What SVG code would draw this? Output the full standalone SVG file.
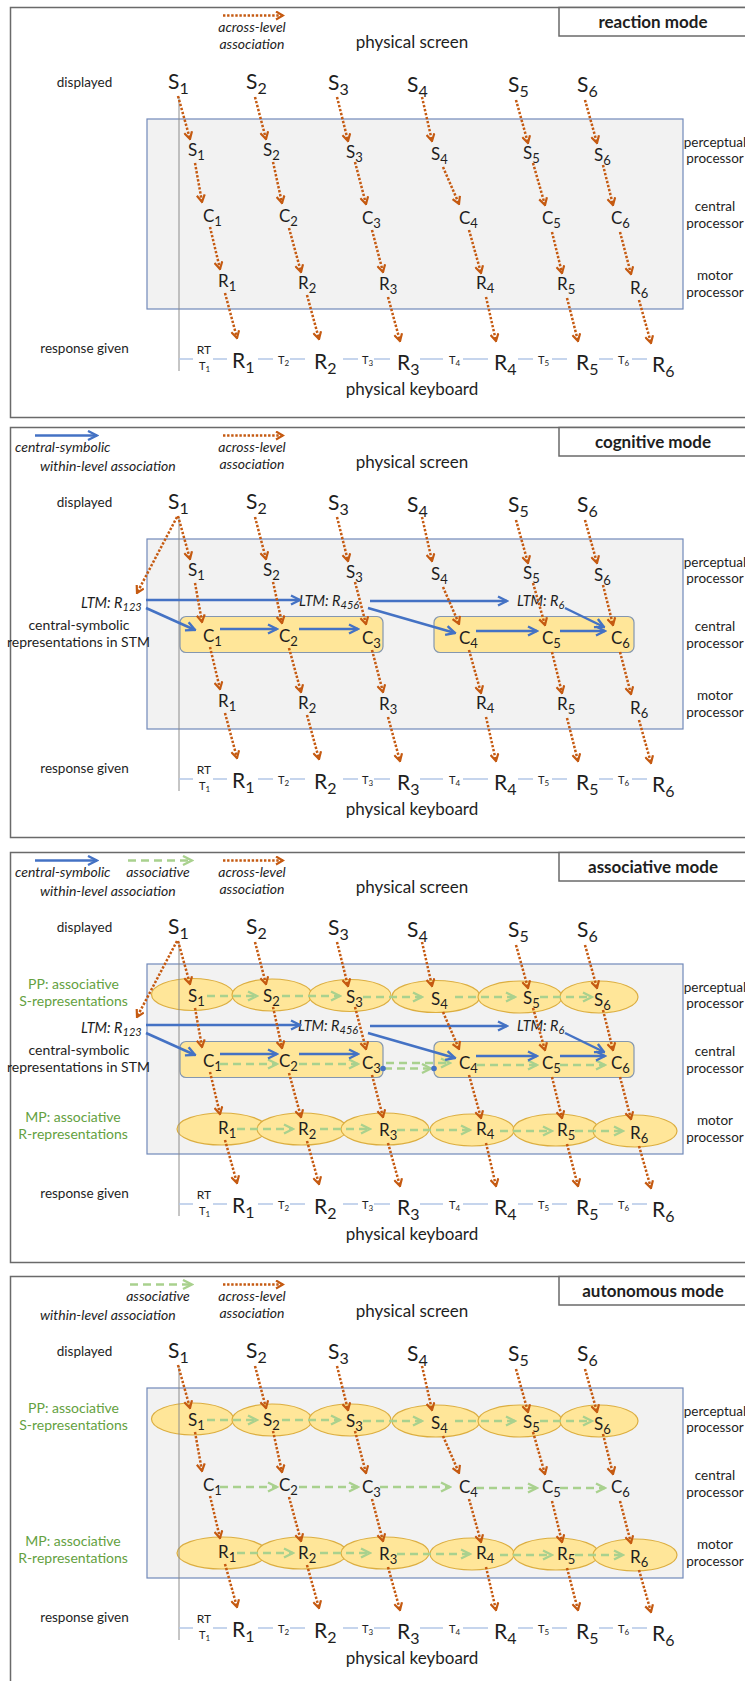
<svg xmlns="http://www.w3.org/2000/svg" width="745" height="1681" viewBox="0 0 745 1681">
<style>
text{font-family:Lato,"Liberation Sans",sans-serif;fill:#1e1e1e}
.frame{fill:none;stroke:#6a6a6a;stroke-width:1.5}
.modebox{fill:#fff;stroke:#6a6a6a;stroke-width:1.5}
.mode{font-size:17px;font-weight:bold;text-anchor:middle}
.hdr{font-size:17px;text-anchor:middle}
.lbl{font-size:13.5px;text-anchor:middle}
.leg{font-size:14px;font-style:italic}
.legc{font-size:14px;font-style:italic;text-anchor:middle}
.ltm{font-size:14.5px;font-style:italic}
.ltms{font-size:11px}
.grn{font-size:14px;fill:#64a13f;text-anchor:middle}
.stml{font-size:14px;text-anchor:middle}
.b{font-size:21px}
.bs{font-size:16px}
.s{font-size:17px}
.ss{font-size:13px}
.rt{font-size:12px;text-anchor:middle}
.t{font-size:11px}
.ts{font-size:8px}
.proc{fill:#f2f2f2;stroke:#7189b9;stroke-width:1.2}
.stm{fill:#ffe699;stroke:#8497b0;stroke-width:1.2}
.er{fill:#ffe699;stroke:#dcae40;stroke-width:1.2}
.vl{stroke:#8c8c8c;stroke-width:1}
.tl{stroke:#b4c7e7;stroke-width:1.3}
.al{fill:none;stroke:#c55a11;stroke-width:2.5;stroke-dasharray:2.4 1.7;marker-end:url(#ao)}
.cs{fill:none;stroke:#4472c4;stroke-width:2.5;marker-end:url(#ab)}
.as{fill:none;stroke:#a9d18e;stroke-width:2.6;stroke-dasharray:8 5;marker-end:url(#ag)}
.dot{fill:#4472c4}
</style>
<defs>
<marker id="ao" viewBox="0 0 10 10" refX="8.5" refY="5" markerWidth="10" markerHeight="10" markerUnits="userSpaceOnUse" orient="auto"><path d="M1.5,1 L8.5,5 L1.5,9" fill="none" stroke="#c55a11" stroke-width="2.2"/></marker>
<marker id="ab" viewBox="0 0 12 12" refX="10.5" refY="6" markerWidth="12" markerHeight="12" markerUnits="userSpaceOnUse" orient="auto"><path d="M1.5,1.5 L10.5,6 L1.5,10.5" fill="none" stroke="#4472c4" stroke-width="2.4"/></marker>
<marker id="ag" viewBox="0 0 12 12" refX="10.5" refY="6" markerWidth="12" markerHeight="12" markerUnits="userSpaceOnUse" orient="auto"><path d="M1.5,1.5 L10.5,6 L1.5,10.5" fill="none" stroke="#a9d18e" stroke-width="2.4"/></marker>
</defs>
<rect width="745" height="1681" fill="#fff"/>

<!-- ================= PANEL 1: reaction mode ================= -->
<g id="panel-reaction">
<rect class="frame" x="10.5" y="7.5" width="740" height="410"/>
<g id="p1-mode"><rect class="modebox" x="559" y="7.5" width="192" height="28.5"/><text class="mode" x="653" y="28">reaction mode</text></g>
<g id="p1-legend"><line class="al" x1="223" y1="15.5" x2="283" y2="15.5"/><text class="legc" x="252" y="32">across-level</text><text class="legc" x="252" y="49">association</text></g>
<g id="p1-screen"><text class="hdr" x="412" y="48">physical screen</text></g>
<g id="p1-displayed"><text class="lbl" x="84.5" y="87">displayed</text></g>
<g id="p1-response"><text class="lbl" x="84.5" y="353">response given</text></g>
<g id="p1-processors"><rect class="proc" x="147" y="119" width="536" height="190"/></g>
<g id="p1-pp-label"><text class="lbl" x="715" y="147">perceptual</text><text class="lbl" x="715" y="163">processor</text></g>
<g id="p1-cp-label"><text class="lbl" x="715" y="211">central</text><text class="lbl" x="715" y="228">processor</text></g>
<g id="p1-mp-label"><text class="lbl" x="715" y="280">motor</text><text class="lbl" x="715" y="297">processor</text></g>
<g id="p1-keyboard"><text class="hdr" x="412" y="395">physical keyboard</text></g>
<g id="p1-Sd1"><text class="b" x="168" y="89">S<tspan class="bs" dy="5">1</tspan></text></g>
<g id="p1-Sd2"><text class="b" x="246" y="89">S<tspan class="bs" dy="5">2</tspan></text></g>
<g id="p1-Sd3"><text class="b" x="328" y="90">S<tspan class="bs" dy="5">3</tspan></text></g>
<g id="p1-Sd4"><text class="b" x="407" y="92">S<tspan class="bs" dy="5">4</tspan></text></g>
<g id="p1-Sd5"><text class="b" x="508" y="92">S<tspan class="bs" dy="5">5</tspan></text></g>
<g id="p1-Sd6"><text class="b" x="577" y="92">S<tspan class="bs" dy="5">6</tspan></text></g>
<g id="p1-S1"><text class="s" x="188" y="156">S<tspan class="ss" dy="4">1</tspan></text></g>
<g id="p1-S2"><text class="s" x="263" y="156">S<tspan class="ss" dy="4">2</tspan></text></g>
<g id="p1-S3"><text class="s" x="346" y="158">S<tspan class="ss" dy="4">3</tspan></text></g>
<g id="p1-S4"><text class="s" x="431" y="160">S<tspan class="ss" dy="4">4</tspan></text></g>
<g id="p1-S5"><text class="s" x="523" y="159">S<tspan class="ss" dy="4">5</tspan></text></g>
<g id="p1-S6"><text class="s" x="594" y="161">S<tspan class="ss" dy="4">6</tspan></text></g>
<g id="p1-C1"><text class="s" x="203" y="222">C<tspan class="ss" dy="4">1</tspan></text></g>
<g id="p1-C2"><text class="s" x="279" y="222">C<tspan class="ss" dy="4">2</tspan></text></g>
<g id="p1-C3"><text class="s" x="362" y="224">C<tspan class="ss" dy="4">3</tspan></text></g>
<g id="p1-C4"><text class="s" x="459" y="224">C<tspan class="ss" dy="4">4</tspan></text></g>
<g id="p1-C5"><text class="s" x="542" y="224">C<tspan class="ss" dy="4">5</tspan></text></g>
<g id="p1-C6"><text class="s" x="611" y="224">C<tspan class="ss" dy="4">6</tspan></text></g>
<g id="p1-R1"><text class="s" x="218" y="287">R<tspan class="ss" dy="4">1</tspan></text></g>
<g id="p1-R2"><text class="s" x="298" y="289">R<tspan class="ss" dy="4">2</tspan></text></g>
<g id="p1-R3"><text class="s" x="379" y="290">R<tspan class="ss" dy="4">3</tspan></text></g>
<g id="p1-R4"><text class="s" x="476" y="289">R<tspan class="ss" dy="4">4</tspan></text></g>
<g id="p1-R5"><text class="s" x="557" y="290">R<tspan class="ss" dy="4">5</tspan></text></g>
<g id="p1-R6"><text class="s" x="630" y="294">R<tspan class="ss" dy="4">6</tspan></text></g>
<g id="p1-Rk1"><text class="b" x="232" y="368">R<tspan class="bs" dy="5">1</tspan></text></g>
<g id="p1-Rk2"><text class="b" x="314" y="369">R<tspan class="bs" dy="5">2</tspan></text></g>
<g id="p1-Rk3"><text class="b" x="397" y="370">R<tspan class="bs" dy="5">3</tspan></text></g>
<g id="p1-Rk4"><text class="b" x="494" y="370">R<tspan class="bs" dy="5">4</tspan></text></g>
<g id="p1-Rk5"><text class="b" x="576" y="370">R<tspan class="bs" dy="5">5</tspan></text></g>
<g id="p1-Rk6"><text class="b" x="652" y="372">R<tspan class="bs" dy="5">6</tspan></text></g>
<g id="p1-timeline">
<line class="vl" x1="179" y1="97" x2="179" y2="371"/>
<path class="tl" d="M179,359H193M213,359H227M258,359H273M290,359H305M343,359H358M374,359H390M420,359H443M463,359H488M518,359H533M552,359H567M599,359H613M632,359H647"/>
<text class="rt" x="204" y="354">RT</text>
<text class="t" x="199" y="370">T<tspan class="ts" dy="2">1</tspan></text>
<text class="t" x="278" y="364">T<tspan class="ts" dy="2">2</tspan></text>
<text class="t" x="362" y="364">T<tspan class="ts" dy="2">3</tspan></text>
<text class="t" x="449" y="364">T<tspan class="ts" dy="2">4</tspan></text>
<text class="t" x="538" y="364">T<tspan class="ts" dy="2">5</tspan></text>
<text class="t" x="618" y="364">T<tspan class="ts" dy="2">6</tspan></text>
</g>
<g id="p1-connectors">
<line class="al" x1="178" y1="96" x2="190" y2="139"/>
<line class="al" x1="255" y1="97" x2="266" y2="139"/>
<line class="al" x1="337" y1="97" x2="348" y2="141"/>
<line class="al" x1="422" y1="97" x2="432" y2="141"/>
<line class="al" x1="516" y1="100" x2="528" y2="143"/>
<line class="al" x1="585" y1="100" x2="597" y2="143"/>
<line class="al" x1="195" y1="163" x2="202" y2="202"/>
<line class="al" x1="273" y1="162" x2="282" y2="203"/>
<line class="al" x1="355" y1="162" x2="366" y2="204"/>
<line class="al" x1="443" y1="167" x2="459" y2="204"/>
<line class="al" x1="533" y1="163" x2="545" y2="205"/>
<line class="al" x1="603" y1="165" x2="613" y2="205"/>
<line class="al" x1="210" y1="227" x2="220" y2="269"/>
<line class="al" x1="289" y1="228" x2="301" y2="272"/>
<line class="al" x1="372" y1="230" x2="383" y2="272"/>
<line class="al" x1="469" y1="230" x2="481" y2="273"/>
<line class="al" x1="552" y1="232" x2="562" y2="273"/>
<line class="al" x1="620" y1="232" x2="631" y2="274"/>
<line class="al" x1="225" y1="293" x2="237" y2="338"/>
<line class="al" x1="307" y1="295" x2="319" y2="339"/>
<line class="al" x1="388" y1="297" x2="400" y2="341"/>
<line class="al" x1="486" y1="297" x2="496" y2="341"/>
<line class="al" x1="567" y1="298" x2="578" y2="341"/>
<line class="al" x1="639" y1="300" x2="651" y2="343"/>
</g>
</g>

<!-- ================= PANEL 2: cognitive mode ================= -->
<g id="panel-cognitive" transform="translate(0,420)">
<rect class="frame" x="10.5" y="7.5" width="740" height="410"/>
<g id="p2-mode"><rect class="modebox" x="559" y="7.5" width="192" height="28.5"/><text class="mode" x="653" y="28">cognitive mode</text></g>
<g id="p2-legend">
<line class="cs" x1="35" y1="15.5" x2="97" y2="15.5"/>
<text class="leg" x="15" y="32">central-symbolic</text>
<text class="leg" x="40" y="51">within-level association</text>
<line class="al" x1="223" y1="15.5" x2="283" y2="15.5"/><text class="legc" x="252" y="32">across-level</text><text class="legc" x="252" y="49">association</text></g>
<g id="p2-screen"><text class="hdr" x="412" y="48">physical screen</text></g>
<g id="p2-displayed"><text class="lbl" x="84.5" y="87">displayed</text></g>
<g id="p2-response"><text class="lbl" x="84.5" y="353">response given</text></g>
<g id="p2-processors"><rect class="proc" x="147" y="119" width="536" height="190"/></g>
<g id="p2-pp-label"><text class="lbl" x="715" y="147">perceptual</text><text class="lbl" x="715" y="163">processor</text></g>
<g id="p2-cp-label"><text class="lbl" x="715" y="211">central</text><text class="lbl" x="715" y="228">processor</text></g>
<g id="p2-mp-label"><text class="lbl" x="715" y="280">motor</text><text class="lbl" x="715" y="297">processor</text></g>
<g id="p2-keyboard"><text class="hdr" x="412" y="395">physical keyboard</text></g>
<g id="p2-stm-label"><text class="stml" x="79" y="210">central-symbolic</text><text class="stml" x="78.5" y="227">representations in STM</text></g>
<g id="p2-stm1"><rect class="stm" x="180" y="196.5" width="203" height="36" rx="6"/></g>
<g id="p2-stm2"><rect class="stm" x="434" y="196.5" width="200" height="36" rx="6"/></g>
<g id="p2-ltm123"><text class="ltm" x="81" y="188">LTM: R<tspan class="ltms" dy="3">123</tspan></text></g>
<g id="p2-ltm456"><text class="ltm" x="299" y="186">LTM: R<tspan class="ltms" dy="3">456</tspan></text></g>
<g id="p2-ltm6"><text class="ltm" x="517" y="186">LTM: R<tspan class="ltms" dy="3">6</tspan></text></g>
<g id="p2-Sd1"><text class="b" x="168" y="89">S<tspan class="bs" dy="5">1</tspan></text></g>
<g id="p2-Sd2"><text class="b" x="246" y="89">S<tspan class="bs" dy="5">2</tspan></text></g>
<g id="p2-Sd3"><text class="b" x="328" y="90">S<tspan class="bs" dy="5">3</tspan></text></g>
<g id="p2-Sd4"><text class="b" x="407" y="92">S<tspan class="bs" dy="5">4</tspan></text></g>
<g id="p2-Sd5"><text class="b" x="508" y="92">S<tspan class="bs" dy="5">5</tspan></text></g>
<g id="p2-Sd6"><text class="b" x="577" y="92">S<tspan class="bs" dy="5">6</tspan></text></g>
<g id="p2-S1"><text class="s" x="188" y="156">S<tspan class="ss" dy="4">1</tspan></text></g>
<g id="p2-S2"><text class="s" x="263" y="156">S<tspan class="ss" dy="4">2</tspan></text></g>
<g id="p2-S3"><text class="s" x="346" y="158">S<tspan class="ss" dy="4">3</tspan></text></g>
<g id="p2-S4"><text class="s" x="431" y="160">S<tspan class="ss" dy="4">4</tspan></text></g>
<g id="p2-S5"><text class="s" x="523" y="159">S<tspan class="ss" dy="4">5</tspan></text></g>
<g id="p2-S6"><text class="s" x="594" y="161">S<tspan class="ss" dy="4">6</tspan></text></g>
<g id="p2-C1"><text class="s" x="203" y="222">C<tspan class="ss" dy="4">1</tspan></text></g>
<g id="p2-C2"><text class="s" x="279" y="222">C<tspan class="ss" dy="4">2</tspan></text></g>
<g id="p2-C3"><text class="s" x="362" y="224">C<tspan class="ss" dy="4">3</tspan></text></g>
<g id="p2-C4"><text class="s" x="459" y="224">C<tspan class="ss" dy="4">4</tspan></text></g>
<g id="p2-C5"><text class="s" x="542" y="224">C<tspan class="ss" dy="4">5</tspan></text></g>
<g id="p2-C6"><text class="s" x="611" y="224">C<tspan class="ss" dy="4">6</tspan></text></g>
<g id="p2-R1"><text class="s" x="218" y="287">R<tspan class="ss" dy="4">1</tspan></text></g>
<g id="p2-R2"><text class="s" x="298" y="289">R<tspan class="ss" dy="4">2</tspan></text></g>
<g id="p2-R3"><text class="s" x="379" y="290">R<tspan class="ss" dy="4">3</tspan></text></g>
<g id="p2-R4"><text class="s" x="476" y="289">R<tspan class="ss" dy="4">4</tspan></text></g>
<g id="p2-R5"><text class="s" x="557" y="290">R<tspan class="ss" dy="4">5</tspan></text></g>
<g id="p2-R6"><text class="s" x="630" y="294">R<tspan class="ss" dy="4">6</tspan></text></g>
<g id="p2-Rk1"><text class="b" x="232" y="368">R<tspan class="bs" dy="5">1</tspan></text></g>
<g id="p2-Rk2"><text class="b" x="314" y="369">R<tspan class="bs" dy="5">2</tspan></text></g>
<g id="p2-Rk3"><text class="b" x="397" y="370">R<tspan class="bs" dy="5">3</tspan></text></g>
<g id="p2-Rk4"><text class="b" x="494" y="370">R<tspan class="bs" dy="5">4</tspan></text></g>
<g id="p2-Rk5"><text class="b" x="576" y="370">R<tspan class="bs" dy="5">5</tspan></text></g>
<g id="p2-Rk6"><text class="b" x="652" y="372">R<tspan class="bs" dy="5">6</tspan></text></g>
<g id="p2-timeline">
<line class="vl" x1="179" y1="97" x2="179" y2="371"/>
<path class="tl" d="M179,359H193M213,359H227M258,359H273M290,359H305M343,359H358M374,359H390M420,359H443M463,359H488M518,359H533M552,359H567M599,359H613M632,359H647"/>
<text class="rt" x="204" y="354">RT</text>
<text class="t" x="199" y="370">T<tspan class="ts" dy="2">1</tspan></text>
<text class="t" x="278" y="364">T<tspan class="ts" dy="2">2</tspan></text>
<text class="t" x="362" y="364">T<tspan class="ts" dy="2">3</tspan></text>
<text class="t" x="449" y="364">T<tspan class="ts" dy="2">4</tspan></text>
<text class="t" x="538" y="364">T<tspan class="ts" dy="2">5</tspan></text>
<text class="t" x="618" y="364">T<tspan class="ts" dy="2">6</tspan></text>
</g>
<g id="p2-connectors">
<line class="cs" x1="146" y1="180" x2="300" y2="180"/>
<line class="cs" x1="146" y1="188" x2="195" y2="210"/>
<line class="cs" x1="370" y1="181" x2="507" y2="181"/>
<line class="cs" x1="368" y1="188" x2="455" y2="213"/>
<line class="cs" x1="565" y1="188" x2="604" y2="207"/>
<line class="cs" x1="220" y1="209" x2="277" y2="209"/>
<line class="cs" x1="299" y1="209" x2="358" y2="209"/>
<line class="cs" x1="476" y1="211" x2="537" y2="211"/>
<line class="cs" x1="560" y1="211" x2="605" y2="211"/>
<line class="al" x1="177" y1="97" x2="137" y2="173"/>
<line class="al" x1="178" y1="96" x2="190" y2="139"/>
<line class="al" x1="255" y1="97" x2="266" y2="139"/>
<line class="al" x1="337" y1="97" x2="348" y2="141"/>
<line class="al" x1="422" y1="97" x2="432" y2="141"/>
<line class="al" x1="516" y1="100" x2="528" y2="143"/>
<line class="al" x1="585" y1="100" x2="597" y2="143"/>
<line class="al" x1="195" y1="163" x2="202" y2="202"/>
<line class="al" x1="273" y1="162" x2="282" y2="203"/>
<line class="al" x1="355" y1="162" x2="366" y2="204"/>
<line class="al" x1="443" y1="167" x2="459" y2="204"/>
<line class="al" x1="533" y1="163" x2="545" y2="205"/>
<line class="al" x1="603" y1="165" x2="613" y2="205"/>
<line class="al" x1="210" y1="227" x2="220" y2="269"/>
<line class="al" x1="289" y1="228" x2="301" y2="272"/>
<line class="al" x1="372" y1="230" x2="383" y2="272"/>
<line class="al" x1="469" y1="230" x2="481" y2="273"/>
<line class="al" x1="552" y1="232" x2="562" y2="273"/>
<line class="al" x1="620" y1="232" x2="631" y2="274"/>
<line class="al" x1="225" y1="293" x2="237" y2="338"/>
<line class="al" x1="307" y1="295" x2="319" y2="339"/>
<line class="al" x1="388" y1="297" x2="400" y2="341"/>
<line class="al" x1="486" y1="297" x2="496" y2="341"/>
<line class="al" x1="567" y1="298" x2="578" y2="341"/>
<line class="al" x1="639" y1="300" x2="651" y2="343"/>
</g>
</g>

<!-- ================= PANEL 3: associative mode ================= -->
<g id="panel-associative" transform="translate(0,845)">
<rect class="frame" x="10.5" y="7.5" width="740" height="410"/>
<g id="p3-mode"><rect class="modebox" x="559" y="7.5" width="192" height="28.5"/><text class="mode" x="653" y="28">associative mode</text></g>
<g id="p3-legend">
<line class="cs" x1="35" y1="15.5" x2="97" y2="15.5"/>
<line class="as" x1="128" y1="15.5" x2="192" y2="15.5"/>
<text class="leg" x="15" y="32">central-symbolic</text>
<text class="legc" x="158" y="32">associative</text>
<text class="leg" x="40" y="51">within-level association</text>
<line class="al" x1="223" y1="15.5" x2="283" y2="15.5"/><text class="legc" x="252" y="32">across-level</text><text class="legc" x="252" y="49">association</text></g>
<g id="p3-screen"><text class="hdr" x="412" y="48">physical screen</text></g>
<g id="p3-displayed"><text class="lbl" x="84.5" y="87">displayed</text></g>
<g id="p3-response"><text class="lbl" x="84.5" y="353">response given</text></g>
<g id="p3-processors"><rect class="proc" x="147" y="119" width="536" height="190"/></g>
<g id="p3-pp-label"><text class="lbl" x="715" y="147">perceptual</text><text class="lbl" x="715" y="163">processor</text></g>
<g id="p3-cp-label"><text class="lbl" x="715" y="211">central</text><text class="lbl" x="715" y="228">processor</text></g>
<g id="p3-mp-label"><text class="lbl" x="715" y="280">motor</text><text class="lbl" x="715" y="297">processor</text></g>
<g id="p3-keyboard"><text class="hdr" x="412" y="395">physical keyboard</text></g>
<g id="p3-pp-assoc"><text class="grn" x="73.5" y="144">PP: associative</text><text class="grn" x="73.5" y="161">S-representations</text></g>
<g id="p3-mp-assoc"><text class="grn" x="73" y="277">MP: associative</text><text class="grn" x="73" y="294">R-representations</text></g>
<g id="p3-stm-label"><text class="stml" x="79" y="210">central-symbolic</text><text class="stml" x="78.5" y="227">representations in STM</text></g>
<g id="p3-stm1"><rect class="stm" x="180" y="196.5" width="203" height="36" rx="6"/></g>
<g id="p3-stm2"><rect class="stm" x="434" y="196.5" width="200" height="36" rx="6"/></g>
<g id="p3-ltm123"><text class="ltm" x="81" y="188">LTM: R<tspan class="ltms" dy="3">123</tspan></text></g>
<g id="p3-ltm456"><text class="ltm" x="298" y="186">LTM: R<tspan class="ltms" dy="3">456</tspan></text></g>
<g id="p3-ltm6"><text class="ltm" x="517" y="186">LTM: R<tspan class="ltms" dy="3">6</tspan></text></g>
<g id="p3-Sd1"><text class="b" x="168" y="89">S<tspan class="bs" dy="5">1</tspan></text></g>
<g id="p3-Sd2"><text class="b" x="246" y="89">S<tspan class="bs" dy="5">2</tspan></text></g>
<g id="p3-Sd3"><text class="b" x="328" y="90">S<tspan class="bs" dy="5">3</tspan></text></g>
<g id="p3-Sd4"><text class="b" x="407" y="92">S<tspan class="bs" dy="5">4</tspan></text></g>
<g id="p3-Sd5"><text class="b" x="508" y="92">S<tspan class="bs" dy="5">5</tspan></text></g>
<g id="p3-Sd6"><text class="b" x="577" y="92">S<tspan class="bs" dy="5">6</tspan></text></g>
<g id="p3-S1"><ellipse class="er" cx="192.5" cy="149.5" rx="41" ry="16"/><text class="s" x="188" y="157">S<tspan class="ss" dy="4">1</tspan></text></g>
<g id="p3-S2"><ellipse class="er" cx="272" cy="150" rx="40" ry="16"/><text class="s" x="263" y="157">S<tspan class="ss" dy="4">2</tspan></text></g>
<g id="p3-S3"><ellipse class="er" cx="350" cy="150.5" rx="41" ry="16"/><text class="s" x="346" y="158">S<tspan class="ss" dy="4">3</tspan></text></g>
<g id="p3-S4"><ellipse class="er" cx="436" cy="151.5" rx="44" ry="16"/><text class="s" x="431" y="160">S<tspan class="ss" dy="4">4</tspan></text></g>
<g id="p3-S5"><ellipse class="er" cx="520" cy="152" rx="42" ry="16"/><text class="s" x="523" y="159">S<tspan class="ss" dy="4">5</tspan></text></g>
<g id="p3-S6"><ellipse class="er" cx="599" cy="152" rx="39" ry="16"/><text class="s" x="594" y="161">S<tspan class="ss" dy="4">6</tspan></text></g>
<g id="p3-C1"><text class="s" x="203" y="222">C<tspan class="ss" dy="4">1</tspan></text></g>
<g id="p3-C2"><text class="s" x="279" y="222">C<tspan class="ss" dy="4">2</tspan></text></g>
<g id="p3-C3"><text class="s" x="362" y="224">C<tspan class="ss" dy="4">3</tspan></text></g>
<g id="p3-C4"><text class="s" x="459" y="224">C<tspan class="ss" dy="4">4</tspan></text></g>
<g id="p3-C5"><text class="s" x="542" y="224">C<tspan class="ss" dy="4">5</tspan></text></g>
<g id="p3-C6"><text class="s" x="611" y="224">C<tspan class="ss" dy="4">6</tspan></text></g>
<g id="p3-R1"><ellipse class="er" cx="222" cy="284" rx="45" ry="16"/><text class="s" x="218" y="289">R<tspan class="ss" dy="4">1</tspan></text></g>
<g id="p3-R2"><ellipse class="er" cx="302" cy="284" rx="45" ry="16"/><text class="s" x="298" y="290">R<tspan class="ss" dy="4">2</tspan></text></g>
<g id="p3-R3"><ellipse class="er" cx="385" cy="284" rx="44" ry="16"/><text class="s" x="379" y="291">R<tspan class="ss" dy="4">3</tspan></text></g>
<g id="p3-R4"><ellipse class="er" cx="472" cy="285" rx="42" ry="16"/><text class="s" x="476" y="290">R<tspan class="ss" dy="4">4</tspan></text></g>
<g id="p3-R5"><ellipse class="er" cx="556" cy="285" rx="43" ry="16"/><text class="s" x="557" y="291">R<tspan class="ss" dy="4">5</tspan></text></g>
<g id="p3-R6"><ellipse class="er" cx="635" cy="286" rx="42" ry="16"/><text class="s" x="630" y="294">R<tspan class="ss" dy="4">6</tspan></text></g>
<g id="p3-Rk1"><text class="b" x="232" y="368">R<tspan class="bs" dy="5">1</tspan></text></g>
<g id="p3-Rk2"><text class="b" x="314" y="369">R<tspan class="bs" dy="5">2</tspan></text></g>
<g id="p3-Rk3"><text class="b" x="397" y="370">R<tspan class="bs" dy="5">3</tspan></text></g>
<g id="p3-Rk4"><text class="b" x="494" y="370">R<tspan class="bs" dy="5">4</tspan></text></g>
<g id="p3-Rk5"><text class="b" x="576" y="370">R<tspan class="bs" dy="5">5</tspan></text></g>
<g id="p3-Rk6"><text class="b" x="652" y="372">R<tspan class="bs" dy="5">6</tspan></text></g>
<g id="p3-timeline">
<line class="vl" x1="179" y1="97" x2="179" y2="371"/>
<path class="tl" d="M179,359H193M213,359H227M258,359H273M290,359H305M343,359H358M374,359H390M420,359H443M463,359H488M518,359H533M552,359H567M599,359H613M632,359H647"/>
<text class="rt" x="204" y="354">RT</text>
<text class="t" x="199" y="370">T<tspan class="ts" dy="2">1</tspan></text>
<text class="t" x="278" y="364">T<tspan class="ts" dy="2">2</tspan></text>
<text class="t" x="362" y="364">T<tspan class="ts" dy="2">3</tspan></text>
<text class="t" x="449" y="364">T<tspan class="ts" dy="2">4</tspan></text>
<text class="t" x="538" y="364">T<tspan class="ts" dy="2">5</tspan></text>
<text class="t" x="618" y="364">T<tspan class="ts" dy="2">6</tspan></text>
</g>
<g id="p3-connectors">
<line class="as" x1="207" y1="151" x2="257" y2="151"/>
<line class="as" x1="282" y1="151" x2="340" y2="151"/>
<line class="as" x1="363" y1="152" x2="422" y2="152"/>
<line class="as" x1="455" y1="152" x2="515" y2="152"/>
<line class="as" x1="540" y1="152" x2="592" y2="152"/>
<line class="as" x1="220" y1="219" x2="277" y2="219"/>
<line class="as" x1="299" y1="219" x2="358" y2="219"/>
<line class="as" x1="386" y1="218" x2="450" y2="218"/>
<line class="as" x1="384" y1="223.5" x2="431" y2="223.5"/>
<circle class="dot" cx="383" cy="223.5" r="2.8"/>
<circle class="dot" cx="434" cy="223.5" r="2.8"/>
<line class="as" x1="477" y1="220" x2="537" y2="220"/>
<line class="as" x1="560" y1="220" x2="605" y2="220"/>
<line class="as" x1="237" y1="284" x2="293" y2="284"/>
<line class="as" x1="320" y1="284" x2="370" y2="284"/>
<line class="as" x1="397" y1="285" x2="470" y2="285"/>
<line class="as" x1="500" y1="286" x2="552" y2="286"/>
<line class="as" x1="575" y1="286" x2="623" y2="286"/>
<line class="cs" x1="146" y1="180" x2="300" y2="180"/>
<line class="cs" x1="146" y1="188" x2="195" y2="210"/>
<line class="cs" x1="370" y1="181" x2="507" y2="181"/>
<line class="cs" x1="368" y1="188" x2="455" y2="213"/>
<line class="cs" x1="565" y1="188" x2="604" y2="207"/>
<line class="cs" x1="220" y1="209" x2="277" y2="209"/>
<line class="cs" x1="299" y1="209" x2="358" y2="209"/>
<line class="cs" x1="476" y1="211" x2="537" y2="211"/>
<line class="cs" x1="560" y1="211" x2="605" y2="211"/>
<line class="al" x1="177" y1="96" x2="137" y2="172"/>
<line class="al" x1="178" y1="96" x2="190" y2="139"/>
<line class="al" x1="255" y1="97" x2="266" y2="139"/>
<line class="al" x1="337" y1="97" x2="348" y2="141"/>
<line class="al" x1="422" y1="97" x2="432" y2="141"/>
<line class="al" x1="516" y1="100" x2="528" y2="143"/>
<line class="al" x1="585" y1="100" x2="597" y2="143"/>
<line class="al" x1="195" y1="163" x2="202" y2="202"/>
<line class="al" x1="273" y1="162" x2="282" y2="203"/>
<line class="al" x1="355" y1="162" x2="366" y2="204"/>
<line class="al" x1="443" y1="167" x2="459" y2="204"/>
<line class="al" x1="533" y1="163" x2="545" y2="205"/>
<line class="al" x1="603" y1="165" x2="613" y2="205"/>
<line class="al" x1="210" y1="227" x2="220" y2="269"/>
<line class="al" x1="289" y1="228" x2="301" y2="272"/>
<line class="al" x1="372" y1="230" x2="383" y2="272"/>
<line class="al" x1="469" y1="230" x2="481" y2="273"/>
<line class="al" x1="552" y1="232" x2="562" y2="273"/>
<line class="al" x1="620" y1="232" x2="631" y2="274"/>
<line class="al" x1="225" y1="295" x2="237" y2="338"/>
<line class="al" x1="307" y1="296" x2="319" y2="339"/>
<line class="al" x1="388" y1="298" x2="400" y2="341"/>
<line class="al" x1="486" y1="298" x2="496" y2="341"/>
<line class="al" x1="567" y1="299" x2="578" y2="341"/>
<line class="al" x1="639" y1="301" x2="651" y2="343"/>
</g>
</g>

<!-- ================= PANEL 4: autonomous mode ================= -->
<g id="panel-autonomous" transform="translate(0,1269)">
<rect class="frame" x="10.5" y="7.5" width="740" height="410"/>
<g id="p4-mode"><rect class="modebox" x="559" y="7.5" width="192" height="28.5"/><text class="mode" x="653" y="28">autonomous mode</text></g>
<g id="p4-legend">
<line class="as" x1="130" y1="15.5" x2="192" y2="15.5"/>
<text class="legc" x="158" y="32">associative</text>
<text class="leg" x="40" y="51">within-level association</text>
<line class="al" x1="223" y1="15.5" x2="283" y2="15.5"/><text class="legc" x="252" y="32">across-level</text><text class="legc" x="252" y="49">association</text></g>
<g id="p4-screen"><text class="hdr" x="412" y="48">physical screen</text></g>
<g id="p4-displayed"><text class="lbl" x="84.5" y="87">displayed</text></g>
<g id="p4-response"><text class="lbl" x="84.5" y="353">response given</text></g>
<g id="p4-processors"><rect class="proc" x="147" y="119" width="536" height="190"/></g>
<g id="p4-pp-label"><text class="lbl" x="715" y="147">perceptual</text><text class="lbl" x="715" y="163">processor</text></g>
<g id="p4-cp-label"><text class="lbl" x="715" y="211">central</text><text class="lbl" x="715" y="228">processor</text></g>
<g id="p4-mp-label"><text class="lbl" x="715" y="280">motor</text><text class="lbl" x="715" y="297">processor</text></g>
<g id="p4-keyboard"><text class="hdr" x="412" y="395">physical keyboard</text></g>
<g id="p4-pp-assoc"><text class="grn" x="73.5" y="144">PP: associative</text><text class="grn" x="73.5" y="161">S-representations</text></g>
<g id="p4-mp-assoc"><text class="grn" x="73" y="277">MP: associative</text><text class="grn" x="73" y="294">R-representations</text></g>
<g id="p4-Sd1"><text class="b" x="168" y="89">S<tspan class="bs" dy="5">1</tspan></text></g>
<g id="p4-Sd2"><text class="b" x="246" y="89">S<tspan class="bs" dy="5">2</tspan></text></g>
<g id="p4-Sd3"><text class="b" x="328" y="90">S<tspan class="bs" dy="5">3</tspan></text></g>
<g id="p4-Sd4"><text class="b" x="407" y="92">S<tspan class="bs" dy="5">4</tspan></text></g>
<g id="p4-Sd5"><text class="b" x="508" y="92">S<tspan class="bs" dy="5">5</tspan></text></g>
<g id="p4-Sd6"><text class="b" x="577" y="92">S<tspan class="bs" dy="5">6</tspan></text></g>
<g id="p4-S1"><ellipse class="er" cx="192.5" cy="150" rx="41" ry="16"/><text class="s" x="188" y="157">S<tspan class="ss" dy="4">1</tspan></text></g>
<g id="p4-S2"><ellipse class="er" cx="272" cy="151" rx="40" ry="16"/><text class="s" x="263" y="157">S<tspan class="ss" dy="4">2</tspan></text></g>
<g id="p4-S3"><ellipse class="er" cx="350" cy="151" rx="41" ry="16"/><text class="s" x="346" y="158">S<tspan class="ss" dy="4">3</tspan></text></g>
<g id="p4-S4"><ellipse class="er" cx="436" cy="152" rx="44" ry="16"/><text class="s" x="431" y="160">S<tspan class="ss" dy="4">4</tspan></text></g>
<g id="p4-S5"><ellipse class="er" cx="520" cy="152" rx="42" ry="16"/><text class="s" x="523" y="159">S<tspan class="ss" dy="4">5</tspan></text></g>
<g id="p4-S6"><ellipse class="er" cx="599" cy="152" rx="39" ry="16"/><text class="s" x="594" y="161">S<tspan class="ss" dy="4">6</tspan></text></g>
<g id="p4-C1"><text class="s" x="203" y="222">C<tspan class="ss" dy="4">1</tspan></text></g>
<g id="p4-C2"><text class="s" x="279" y="222">C<tspan class="ss" dy="4">2</tspan></text></g>
<g id="p4-C3"><text class="s" x="362" y="224">C<tspan class="ss" dy="4">3</tspan></text></g>
<g id="p4-C4"><text class="s" x="459" y="224">C<tspan class="ss" dy="4">4</tspan></text></g>
<g id="p4-C5"><text class="s" x="542" y="224">C<tspan class="ss" dy="4">5</tspan></text></g>
<g id="p4-C6"><text class="s" x="611" y="224">C<tspan class="ss" dy="4">6</tspan></text></g>
<g id="p4-R1"><ellipse class="er" cx="222" cy="284" rx="45" ry="16"/><text class="s" x="218" y="289">R<tspan class="ss" dy="4">1</tspan></text></g>
<g id="p4-R2"><ellipse class="er" cx="302" cy="284" rx="45" ry="16"/><text class="s" x="298" y="290">R<tspan class="ss" dy="4">2</tspan></text></g>
<g id="p4-R3"><ellipse class="er" cx="385" cy="284" rx="44" ry="16"/><text class="s" x="379" y="291">R<tspan class="ss" dy="4">3</tspan></text></g>
<g id="p4-R4"><ellipse class="er" cx="472" cy="285" rx="42" ry="16"/><text class="s" x="476" y="290">R<tspan class="ss" dy="4">4</tspan></text></g>
<g id="p4-R5"><ellipse class="er" cx="556" cy="285" rx="43" ry="16"/><text class="s" x="557" y="291">R<tspan class="ss" dy="4">5</tspan></text></g>
<g id="p4-R6"><ellipse class="er" cx="635" cy="286" rx="42" ry="16"/><text class="s" x="630" y="294">R<tspan class="ss" dy="4">6</tspan></text></g>
<g id="p4-Rk1"><text class="b" x="232" y="368">R<tspan class="bs" dy="5">1</tspan></text></g>
<g id="p4-Rk2"><text class="b" x="314" y="369">R<tspan class="bs" dy="5">2</tspan></text></g>
<g id="p4-Rk3"><text class="b" x="397" y="370">R<tspan class="bs" dy="5">3</tspan></text></g>
<g id="p4-Rk4"><text class="b" x="494" y="370">R<tspan class="bs" dy="5">4</tspan></text></g>
<g id="p4-Rk5"><text class="b" x="576" y="370">R<tspan class="bs" dy="5">5</tspan></text></g>
<g id="p4-Rk6"><text class="b" x="652" y="372">R<tspan class="bs" dy="5">6</tspan></text></g>
<g id="p4-timeline">
<line class="vl" x1="179" y1="97" x2="179" y2="371"/>
<path class="tl" d="M179,359H193M213,359H227M258,359H273M290,359H305M343,359H358M374,359H390M420,359H443M463,359H488M518,359H533M552,359H567M599,359H613M632,359H647"/>
<text class="rt" x="204" y="354">RT</text>
<text class="t" x="199" y="370">T<tspan class="ts" dy="2">1</tspan></text>
<text class="t" x="278" y="364">T<tspan class="ts" dy="2">2</tspan></text>
<text class="t" x="362" y="364">T<tspan class="ts" dy="2">3</tspan></text>
<text class="t" x="449" y="364">T<tspan class="ts" dy="2">4</tspan></text>
<text class="t" x="538" y="364">T<tspan class="ts" dy="2">5</tspan></text>
<text class="t" x="618" y="364">T<tspan class="ts" dy="2">6</tspan></text>
</g>
<g id="p4-connectors">
<line class="as" x1="207" y1="151" x2="257" y2="151"/>
<line class="as" x1="282" y1="151" x2="340" y2="151"/>
<line class="as" x1="363" y1="152" x2="422" y2="152"/>
<line class="as" x1="455" y1="152" x2="515" y2="152"/>
<line class="as" x1="540" y1="152" x2="592" y2="152"/>
<line class="as" x1="220" y1="218" x2="277" y2="218"/>
<line class="as" x1="299" y1="218" x2="358" y2="218"/>
<line class="as" x1="380" y1="218" x2="450" y2="218"/>
<line class="as" x1="476" y1="219" x2="537" y2="219"/>
<line class="as" x1="560" y1="219" x2="605" y2="219"/>
<line class="as" x1="237" y1="284" x2="293" y2="284"/>
<line class="as" x1="320" y1="284" x2="370" y2="284"/>
<line class="as" x1="397" y1="285" x2="470" y2="285"/>
<line class="as" x1="500" y1="286" x2="552" y2="286"/>
<line class="as" x1="575" y1="286" x2="623" y2="286"/>
<line class="al" x1="178" y1="96" x2="190" y2="139"/>
<line class="al" x1="255" y1="97" x2="266" y2="139"/>
<line class="al" x1="337" y1="97" x2="348" y2="141"/>
<line class="al" x1="422" y1="97" x2="432" y2="141"/>
<line class="al" x1="516" y1="100" x2="528" y2="143"/>
<line class="al" x1="585" y1="100" x2="597" y2="143"/>
<line class="al" x1="195" y1="163" x2="202" y2="202"/>
<line class="al" x1="273" y1="162" x2="282" y2="203"/>
<line class="al" x1="355" y1="162" x2="366" y2="204"/>
<line class="al" x1="443" y1="167" x2="459" y2="204"/>
<line class="al" x1="533" y1="163" x2="545" y2="205"/>
<line class="al" x1="603" y1="165" x2="613" y2="205"/>
<line class="al" x1="210" y1="227" x2="220" y2="269"/>
<line class="al" x1="289" y1="228" x2="301" y2="272"/>
<line class="al" x1="372" y1="230" x2="383" y2="272"/>
<line class="al" x1="469" y1="230" x2="481" y2="273"/>
<line class="al" x1="552" y1="232" x2="562" y2="273"/>
<line class="al" x1="620" y1="232" x2="631" y2="274"/>
<line class="al" x1="225" y1="295" x2="237" y2="338"/>
<line class="al" x1="307" y1="296" x2="319" y2="339"/>
<line class="al" x1="388" y1="298" x2="400" y2="341"/>
<line class="al" x1="486" y1="298" x2="496" y2="341"/>
<line class="al" x1="567" y1="299" x2="578" y2="341"/>
<line class="al" x1="639" y1="301" x2="651" y2="343"/>
</g>
</g>
</svg>
